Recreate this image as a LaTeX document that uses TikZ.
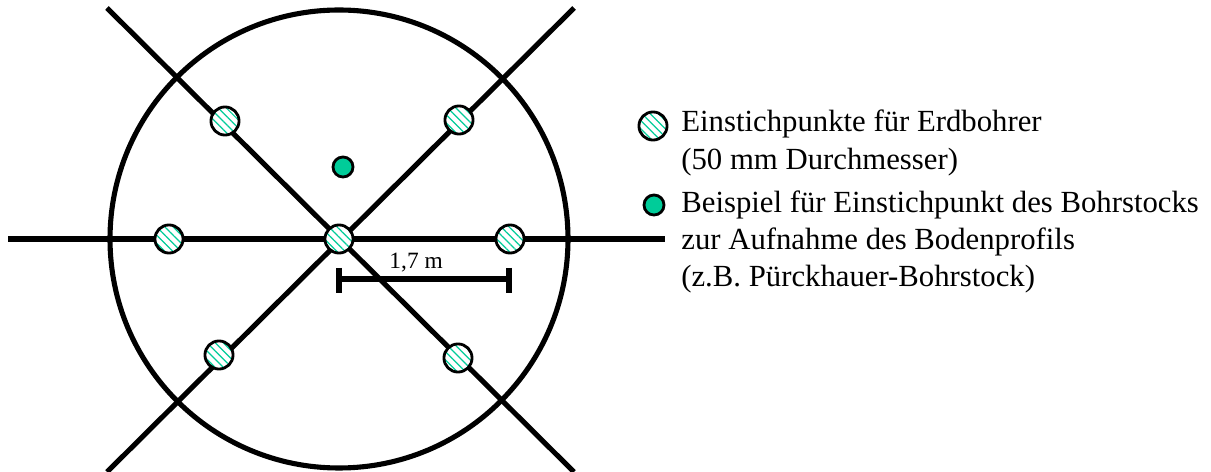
\documentclass[tikz,border=0pt]{standalone}
\usepackage{fontspec}
\setmainfont{Liberation Serif}
\usetikzlibrary{patterns.meta}
\definecolor{custom-green}{RGB}{0, 204, 153}
\tikzset{
  thickline/.style={line width=2.9pt},
  bore/.style={circle, draw=black, line width=1.6pt, minimum size=16pt, inner sep=0pt, preaction={fill=white}, pattern={Lines[angle=135, distance=3.3pt, line width=0.7pt]}, pattern color=custom-green},
  probe/.style={circle, draw=black, fill=custom-green, line width=1.6pt, minimum size=11.4pt, inner sep=0pt},
  legend/.style={anchor=base west, inner sep=0pt, font=\fontsize{17.5pt}{19pt}\selectfont},
}
\begin{document}
\begin{tikzpicture}[x=0.02cm, y=-0.02cm]
                \useasboundingbox (0, 0) rectangle (1211, 472);
                \coordinate (west) at (8, 239);
                \coordinate (east) at (665, 239);
                \coordinate (nw) at (107, 8);
                \coordinate (se) at (574, 472);
                \coordinate (ne) at (574, 8);
                \coordinate (sw) at (107, 472);
                \draw[thickline] (339, 239) circle (229);
                \draw[thickline] (west) -- (east);
                \draw[thickline] (nw) -- (se);
                \draw[thickline] (ne) -- (sw);
                \coordinate (barl) at (339, 279);
                \coordinate (barr) at (509, 279);
                \coordinate (barlt) at (339, 268);
                \coordinate (barlb) at (339, 293);
                \coordinate (barrt) at (509, 268);
                \coordinate (barrb) at (509, 293);
                \draw[thickline] (barl) -- node[midway, above=2.5pt, inner sep=0pt, xshift=-4.5pt, font=\fontsize{13.3pt}{15pt}\selectfont]{1,7 m} (barr);
                \draw[thickline] (barlt) -- (barlb);
                \draw[thickline] (barrt) -- (barrb);
                \node[bore] (c) at (339, 239) {};
                \node[bore] (a1) at (225, 121) {};
                \node[bore] (a2) at (459, 120) {};
                \node[bore] (a3) at (169, 239) {};
                \node[bore] (a4) at (510, 239) {};
                \node[bore] (a5) at (219, 355) {};
                \node[bore] (a6) at (458, 358) {};
                \node[probe] (p) at (343, 167) {};
                \node[bore] (leg1) at (653, 126) {};
                \node[probe] (leg2) at (654, 205) {};
                \node[legend] (t1) at (681, 132) {Einstichpunkte für Erdbohrer};
                \node[legend] (t2) at (681, 170) {(50 mm Durchmesser)};
                \node[legend] (t3) at (681, 213) {Beispiel für Einstichpunkt des Bohrstocks};
                \node[legend] (t4) at (681, 250) {zur Aufnahme des Bodenprofils};
                \node[legend] (t5) at (681, 287) {(z.B. Pürckhauer-Bohrstock)};
\end{tikzpicture}
\end{document}
